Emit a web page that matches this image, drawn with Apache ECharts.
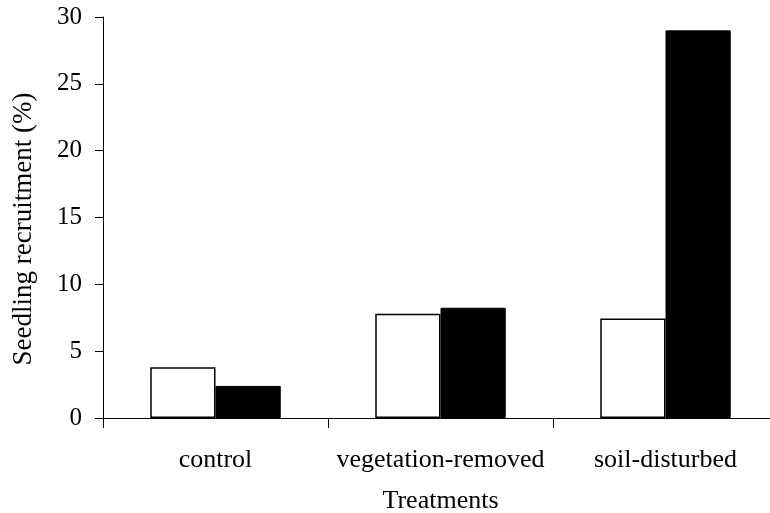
<!DOCTYPE html>
<html>
<head>
<meta charset="utf-8">
<script src="https://cdn.jsdelivr.net/npm/echarts@6/dist/echarts.min.js"></script>
<style>
    html, body { margin: 0; padding: 0; background: #fff; }
    #chart { width: 770px; height: 513px; }
</style>
</head>
<body>
<div id="chart"></div>
<script>
// treatments on the x axis
const categories = ['control', 'vegetation-removed', 'soil-disturbed'];
// white bars / black bars
const whiteValues = [3.8, 7.8, 7.45];
const blackValues = [2.4, 8.25, 29.0];

const font = 'Liberation Serif, Times New Roman, serif';

const chart = echarts.init(document.getElementById('chart'));
const option = {
    animation: false,
    backgroundColor: '#fff',
    grid: {
        left: 103,
        right: -8,
        top: 17,
        bottom: 95,
        containLabel: false,
        outerBoundsMode: 'none'
    },
    xAxis: {
        type: 'category',
        data: categories,
        name: 'Treatments',
        nameLocation: 'middle',
        nameGap: 70,
        nameTextStyle: { color: '#000', fontFamily: font, fontSize: 26 },
        axisLine: { lineStyle: { color: '#000', width: 1 } },
        axisTick: { show: true, interval: 0, length: 10, lineStyle: { color: '#000' } },
        axisLabel: {
            color: '#000',
            fontFamily: font,
            fontSize: 26,
            margin: 29,
            interval: 0,
            hideOverlap: false
        },
        splitLine: { show: false }
    },
    yAxis: {
        type: 'value',
        min: 0,
        max: 30,
        interval: 5,
        name: 'Seedling recruitment (%)',
        nameLocation: 'middle',
        nameGap: 66,
        nameTextStyle: {
            color: '#000',
            fontFamily: font,
            fontSize: 27,
            padding: [0, 23, 0, 0]
        },
        axisLine: { show: true, lineStyle: { color: '#000', width: 1 } },
        axisTick: { show: true, length: 8, lineStyle: { color: '#000' } },
        axisLabel: { color: '#000', fontFamily: font, fontSize: 25, margin: 21 },
        splitLine: { show: false }
    },
    series: [
        {
            type: 'bar',
            data: whiteValues,
            barGap: '0%',
            barCategoryGap: '42%',
            itemStyle: { color: '#fff', borderColor: '#000', borderWidth: 1.5 }
        },
        {
            type: 'bar',
            data: blackValues,
            barGap: '0%',
            barCategoryGap: '42%',
            itemStyle: { color: '#000', borderColor: '#000', borderWidth: 1 }
        }
    ]
};
chart.setOption(option);
</script>
</body>
</html>
